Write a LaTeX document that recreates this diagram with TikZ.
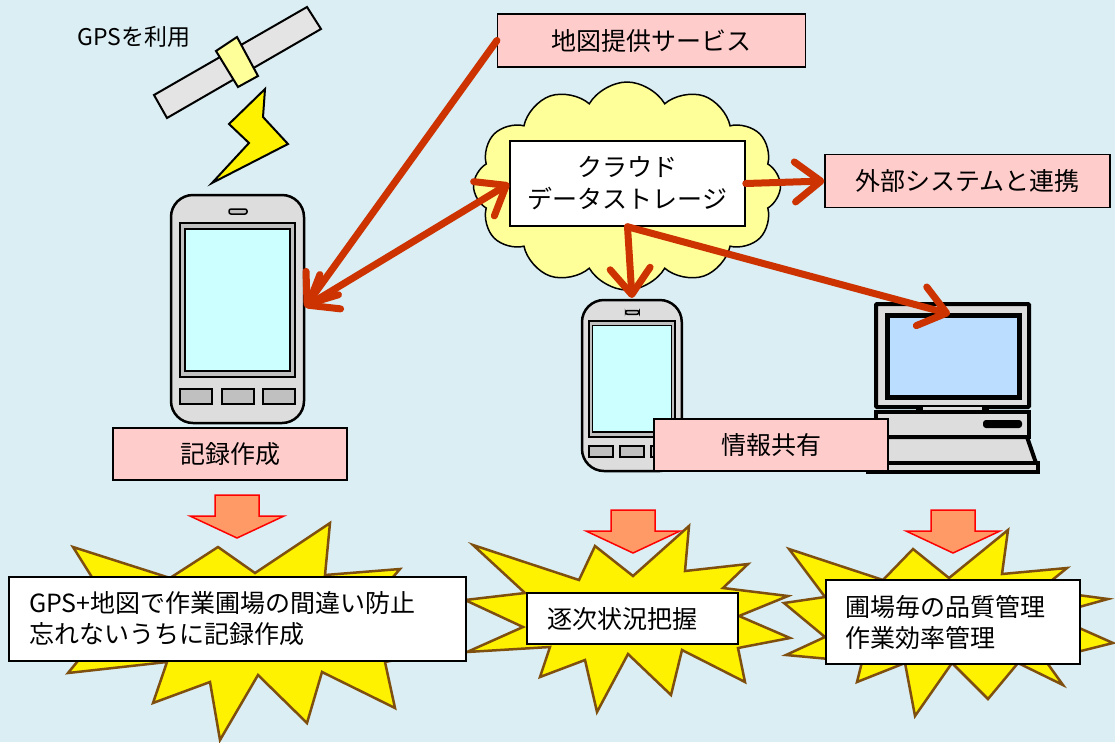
\documentclass[tikz,border=0pt]{standalone}
\usepackage{fontspec}
\setmainfont{Noto Sans CJK JP}
\usepackage{tikz}
\usetikzlibrary{shapes.symbols}
\usetikzlibrary{arrows.meta}

\definecolor{bgblue}{HTML}{DAEEF3}
\definecolor{boxpink}{HTML}{FFCCCC}
\definecolor{cloudyellow}{HTML}{FFFF99}
\definecolor{linkred}{HTML}{CC3300}
\definecolor{burstline}{HTML}{7F4F10}
\definecolor{fatorange}{HTML}{FF9966}
\definecolor{bodygray}{HTML}{DDDDDD}
\definecolor{keygray}{HTML}{C0C0C0}
\definecolor{lcdcyan}{HTML}{CCFFFF}
\definecolor{lcdblue}{HTML}{BBDDFF}

\tikzset{
	redtip/.tip={Straight Barb[length=26pt,width=40pt,round]},
	link/.style={draw=linkred, line width=7pt, line cap=round},
	pinkbox/.style={draw, line width=1.2pt, fill=boxpink, inner sep=0pt, font=\fontsize{25}{30}\selectfont},
	textbox/.style={draw, line width=1.5pt, fill=white, align=left, inner ysep=0pt, font=\fontsize{25}{31}\selectfont},
	burst/.style={draw=burstline, line width=2.5pt, fill=yellow, line join=miter},
	phone/.pic={
		\draw[line width=2.5pt, fill=bodygray, rounded corners=22pt] (0,0) rectangle (133,228);
		\draw[line width=1.5pt, fill=keygray, rounded corners=2pt] (58,14) rectangle (76,19);
		\draw[line width=2pt, fill=keygray] (9,28) rectangle (124,182);
		\draw[line width=1.5pt, fill=lcdcyan] (14,34) rectangle (119,176);
		\foreach \k in {9,51,92}
			\draw[line width=2pt, fill=keygray] (\k,194) rectangle ++(32,15);
	},
	fatarrow/.pic={
		\draw[red, line width=1.5pt, fill=fatorange] (-22,0) -- (22,0) -- (22,21) -- (47,21) -- (0,43) -- (-47,21) -- (-22,21) -- cycle;
	}
}

\begin{document}
\begin{tikzpicture}[x=1pt, y=-1pt]
	\useasboundingbox (0,0) rectangle (1115,742);
	\fill[bgblue] (0,0) rectangle (1115,742);

	% satellite and signal
	\node[font=\fontsize{23}{28}\selectfont] (gps) at (134,37) {GPSを利用};
	\draw[line width=2pt, fill=bodygray!80!white] (154,95) -- (167,118) -- (321,29) -- (307,7) -- cycle;
	\draw[line width=2pt, fill=cloudyellow] (216,51) -- (238,87) -- (258,76) -- (237,37) -- cycle;
	\draw[line width=2pt, fill=yellow, line join=miter] (265,89) -- (229,124) -- (249,143) -- (212,183) -- (288,144) -- (263,117) -- cycle;

	% terminals
	\pic at (171,195) {phone};
	\pic[scale=0.75] at (582,300) {phone};
	\coordinate (ph1) at (305,307);
	\coordinate (ph2) at (632,298);

	\draw[line width=4pt, fill=bodygray, rounded corners=1pt] (876,304) rectangle (1029,407);
	\draw[line width=5pt, fill=lcdblue] (887,315) rectangle (1019,397);
	\fill[bodygray] (922,407) rectangle (983,412);
	\fill (916,406) rectangle (923,413);
	\fill (982,406) rectangle (989,413);
	\draw[line width=4pt, fill=bodygray] (876,412) rectangle (1029,437);
	\fill[rounded corners=3pt] (983,420) rectangle (1022,428);
	\draw[line width=4pt, fill=bodygray, line join=round] (876,437) -- (1027,437) -- (1036,463) -- (870,463) -- cycle;
	\draw[line width=4pt, fill=bodygray] (868,463) rectangle (1038,472);
	\coordinate (pc) at (950,314);

	% cloud storage
	\node[cloud, draw, line width=1.5pt, fill=cloudyellow, cloud puffs=12, cloud puff arc=120, aspect=1.5,
		minimum width=307pt, minimum height=208pt, inner sep=0pt] (cloud) at (627,186) {};
	\node[pinkbox, minimum width=308pt, minimum height=53pt] (map) at (651.5,40.5) {地図提供サービス};
	\node[pinkbox, minimum width=285pt, minimum height=53pt] (ext) at (967.5,181) {外部システムと連携};
	\node[draw, line width=1.5pt, fill=white, minimum width=235pt, minimum height=85pt, align=center,
		font=\fontsize{25}{32}\selectfont] (store) at (627.5,183.5) {クラウド\\データストレージ};

	\draw[link, -redtip] (map.west) -- (ph1);
	\draw[link, redtip-redtip] (ph1) -- (store.west);
	\draw[link, -redtip] (store.east) -- (ext.west);
	\draw[link, -redtip] (store.south) -- (ph2);
	\draw[link, -redtip] (store.south) -- (pc);

	\node[pinkbox, minimum width=234pt, minimum height=52pt] (rec) at (230,454) {記録作成};
	\node[pinkbox, minimum width=234pt, minimum height=52pt] (share) at (771,445) {情報共有};

	% results
	\draw[burst] (73,547) -- (170,578) -- (218,547) -- (255,573) -- (330,523) -- (325,575) -- (400,569) -- (380,592)
		-- (455,603) -- (405,625) -- (455,648) -- (385,662) -- (395,708) -- (322,672) -- (307,723) -- (258,675)
		-- (220,740) -- (210,682) -- (153,703) -- (167,662) -- (68,673) -- (95,640) -- (25,610) -- (100,590) -- cycle;
	\draw[burst] (473,545) -- (579,580) -- (595,546) -- (633,576) -- (689,526) -- (685,571) -- (748,564) -- (723,588)
		-- (788,596) -- (739,616) -- (790,638) -- (738,648) -- (745,682) -- (682,650) -- (671,695) -- (628,654)
		-- (597,712) -- (585,660) -- (540,677) -- (550,647) -- (467,652) -- (523,627) -- (465,600) -- (525,593) -- cycle;
	\draw[burst] (789,549) -- (883,580) -- (913,549) -- (949,578) -- (1008,530) -- (1002,574) -- (1067,568) -- (1040,590)
		-- (1108,599) -- (1050,615) -- (1113,643) -- (1045,660) -- (1063,685) -- (1018,663) -- (988,699) -- (952,663)
		-- (915,716) -- (905,663) -- (857,682) -- (862,662) -- (786,655) -- (825,637) -- (784,603) -- (825,597) -- cycle;

	\pic at (237,495) {fatarrow};
	\pic at (633,510) {fatarrow};
	\pic at (953,510) {fatarrow};

	\node[textbox, minimum width=457pt, minimum height=84pt, inner xsep=20pt, text width=417pt] (res1) at (237.5,619)
		{GPS+地図で作業圃場の間違い防止\\忘れないうちに記録作成};
	\node[textbox, minimum width=211pt, minimum height=51pt, inner xsep=20pt, text width=171pt] (res2) at (632.5,618.5)
		{逐次状況把握};
	\node[textbox, minimum width=254pt, minimum height=84pt, inner xsep=19pt, text width=216pt] (res3) at (953,622)
		{圃場毎の品質管理\\作業効率管理};
\end{tikzpicture}
\end{document}
